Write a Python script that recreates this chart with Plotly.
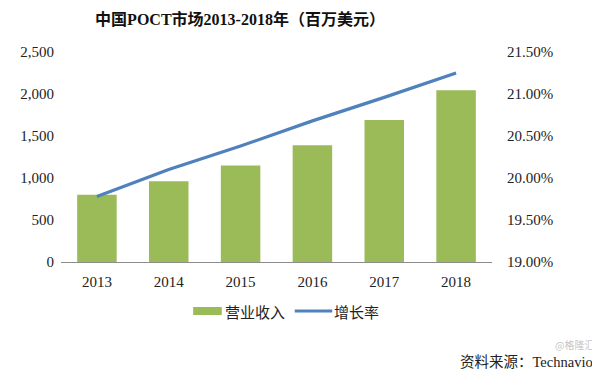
import plotly.graph_objects as go

years = ["2013", "2014", "2015", "2016", "2017", "2018"]
revenue = [800, 960, 1150, 1390, 1690, 2045]
growth = [0.1978, 0.2010, 0.2038, 0.2068, 0.2096, 0.2125]
left_ticks = [0, 500, 1000, 1500, 2000, 2500]
right_ticks = [0.19, 0.195, 0.20, 0.205, 0.21, 0.215]

FONT = "Liberation Serif, Times New Roman, Noto Sans CJK SC, serif"
GREEN = "#9BBB59"
BLUE = "#4F81BD"

# page body has an 8px margin; size the figure to fill the 600x375 view
W, H, OFF = 592, 367, 8

fig = go.Figure()
fig.add_trace(go.Bar(x=years, y=revenue, name="营业收入", marker_color=GREEN,
                     marker_line_width=0, yaxis="y"))
fig.add_trace(go.Scatter(x=years, y=growth, name="增长率", mode="lines",
                         line=dict(color=BLUE, width=3.2), yaxis="y2"))

fig.update_layout(
    width=W, height=H,
    margin=dict(l=55 - OFF, r=108, t=52 - OFF, b=113),
    paper_bgcolor="white", plot_bgcolor="white",
    showlegend=False,
    bargap=0.45,
    font=dict(family=FONT, size=15, color="#222"),
    title=dict(text="<b>中国POCT市场2013-2018年（百万美元）</b>",
               x=(240 - OFF) / W, xanchor="center", xref="container",
               y=1 - (19 - OFF) / H, yanchor="middle", yref="container",
               font=dict(family=FONT, size=16, color="#111")),
    xaxis=dict(type="category", showgrid=False, showline=True,
               linecolor="#8c8c8c", linewidth=1.2, ticks="",
               tickfont=dict(size=15), ticklabelstandoff=6),
    yaxis=dict(range=[0, 2500], tickvals=left_ticks,
               ticktext=[f"{v:,}" for v in left_ticks],
               showgrid=False, showline=False, zeroline=False,
               ticks="", tickfont=dict(size=15), ticklabelstandoff=6),
    yaxis2=dict(range=[0.19, 0.215], tickvals=right_ticks,
                tickformat=".2%", overlaying="y", side="right",
                showgrid=False, showline=False, zeroline=False,
                ticks="", tickfont=dict(size=15), ticklabelstandoff=14),
)

# custom legend, positioned in reference-pixel coordinates
def px_x(p):
    return (p - 55) / 437

def px_y(p):
    return (262 - p) / 210

ly = 311
fig.add_shape(type="rect", xref="paper", yref="paper",
              x0=px_x(189), x1=px_x(218), y0=px_y(ly + 4), y1=px_y(ly - 4),
              fillcolor=GREEN, line_width=0)
fig.add_annotation(text="营业收入", xref="paper", yref="paper",
                   x=px_x(219), y=px_y(ly), xanchor="left", yanchor="middle",
                   showarrow=False, font=dict(size=15, color="#222",
                                              family="Noto Sans CJK SC"))
fig.add_shape(type="line", xref="paper", yref="paper",
              x0=px_x(292), x1=px_x(330), y0=px_y(ly), y1=px_y(ly),
              line=dict(color=BLUE, width=3))
fig.add_annotation(text="增长率", xref="paper", yref="paper",
                   x=px_x(330), y=px_y(ly), xanchor="left", yanchor="middle",
                   showarrow=False, font=dict(size=15, color="#222",
                                              family="Noto Sans CJK SC"))

fig.add_annotation(text="资料来源：Technavio", xref="paper", yref="paper",
                   x=px_x(596), y=px_y(362), xanchor="right", yanchor="middle",
                   showarrow=False, font=dict(size=14.5, color="#222", family=FONT))
fig.add_annotation(text="@格隆汇", xref="paper", yref="paper",
                   x=px_x(597), y=px_y(344), xanchor="right", yanchor="middle",
                   showarrow=False, font=dict(size=10, color="rgba(170,170,170,0.7)",
                                              family="Noto Sans CJK SC"))

fig.write_html("out.html")
